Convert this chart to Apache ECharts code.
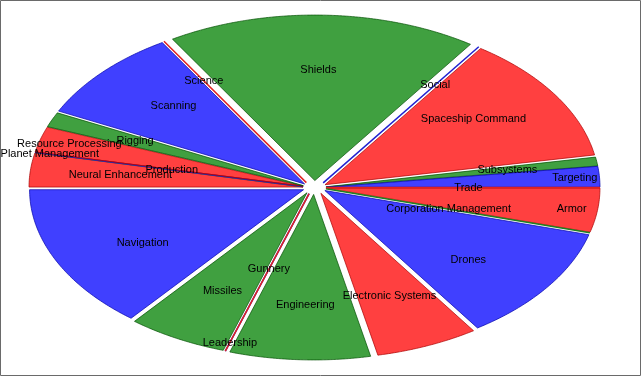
<!DOCTYPE html>
<html>
<head>
<meta charset="utf-8">
<script src="https://cdn.jsdelivr.net/npm/echarts@6/dist/echarts.min.js"></script>
<style>
  html, body { margin: 0; padding: 0; background: #fff; }
  #chart { width: 642px; height: 377px; }
</style>
</head>
<body>
<div id="chart"></div>
<script>
// skill groups, alphabetical (drawn clockwise from 3 o'clock)
var skills = ['Armor', 'Corporation Management', 'Drones', 'Electronic Systems', 'Engineering',
  'Gunnery', 'Leadership', 'Missiles', 'Navigation', 'Neural Enhancement', 'Planet Management',
  'Production', 'Resource Processing', 'Rigging', 'Scanning', 'Science', 'Shields', 'Social',
  'Spaceship Command', 'Subsystems', 'Targeting', 'Trade'];
var points = [9.5, 0, 32.5, 28.6, 47.4, 0, 0, 25.3, 36.7, 7.3, 0, 0, 5.7, 3.5, 28.3, 0, 94, 0, 34.9, 1.9, 4.4, 0];

// layout
var cx = 314.5, cy = 187.5, rx = 274, ry = 165.5, explode = 0.042;
var fills = ['rgba(255,0,0,0.75)', 'rgba(0,128,0,0.75)', 'rgba(0,0,255,0.75)'];
var edges = ['rgba(170,0,0,0.7)', 'rgba(0,80,0,0.7)', 'rgba(0,0,170,0.7)'];
var lines = ['#e02020', '#208020', '#2020d0'];
// labels moved in/out where they would collide
var labelPos = {
  'Armor': 0.905, 'Corporation Management': 0.465, 'Gunnery': 0.48, 'Leadership': 0.945,
  'Planet Management': 0.945, 'Production': 0.49, 'Resource Processing': 0.89,
  'Science': 0.72, 'Social': 0.72, 'Targeting': 0.91, 'Trade': 0.52
};

var total = points.reduce(function (a, b) { return a + b; }, 0);
var starts = [], acc = 0;
for (var i = 0; i < points.length; i++) {
  starts.push(acc / total * 360);
  acc += points[i];
}

function edge(deg) {
  var t = deg * Math.PI / 180;
  var c = Math.cos(t), s = Math.sin(t);
  var r = rx * ry / Math.sqrt(ry * c * ry * c + rx * s * rx * s);
  return [r * c, r * s];
}

function renderItem(params, api) {
  var i = params.dataIndex;
  var name = skills[i];
  var a0 = starts[i];
  var a1 = a0 + api.value(0) / total * 360;
  var midDeg = (a0 + a1) / 2;
  var m = midDeg * Math.PI / 180;
  var ox = cx + explode * rx * Math.cos(m);
  var oy = cy + explode * ry * Math.sin(m);
  var children = [];
  if (a1 - a0 < 0.3) {
    var p = edge(a0);
    children.push({
      type: 'line',
      shape: { x1: ox, y1: oy, x2: ox + p[0], y2: oy + p[1] },
      style: { stroke: lines[i % 3], lineWidth: 1.5 }
    });
  } else {
    var pts = [[ox, oy]];
    var n = Math.max(2, Math.ceil((a1 - a0) / 0.5));
    for (var k = 0; k <= n; k++) {
      var e = edge(a0 + (a1 - a0) * k / n);
      pts.push([ox + e[0], oy + e[1]]);
    }
    children.push({
      type: 'polygon',
      shape: { points: pts },
      style: { fill: fills[i % 3], stroke: edges[i % 3], lineWidth: 1 }
    });
  }
  var f = labelPos[name] || 0.67;
  var le = edge(midDeg);
  children.push({
    type: 'text',
    z2: 100,
    x: ox + le[0] * f,
    y: oy + le[1] * f,
    style: {
      text: name, fill: '#000', font: '11px "Liberation Sans", Arial, sans-serif',
      align: 'center', verticalAlign: 'middle'
    }
  });
  return { type: 'group', children: children };
}

var chart = echarts.init(document.getElementById('chart'));
chart.setOption({
  animation: false,
  graphic: [{
    type: 'rect', z: 100, silent: true,
    shape: { x: 0.5, y: 0.5, width: 640, height: 375 },
    style: { fill: 'none', stroke: '#6a6a6a', lineWidth: 1 }
  }],
  series: [{
    type: 'custom',
    coordinateSystem: 'none',
    renderItem: renderItem,
    data: points.map(function (v, i) { return { name: skills[i], value: [v] }; })
  }]
});
</script>
</body>
</html>
